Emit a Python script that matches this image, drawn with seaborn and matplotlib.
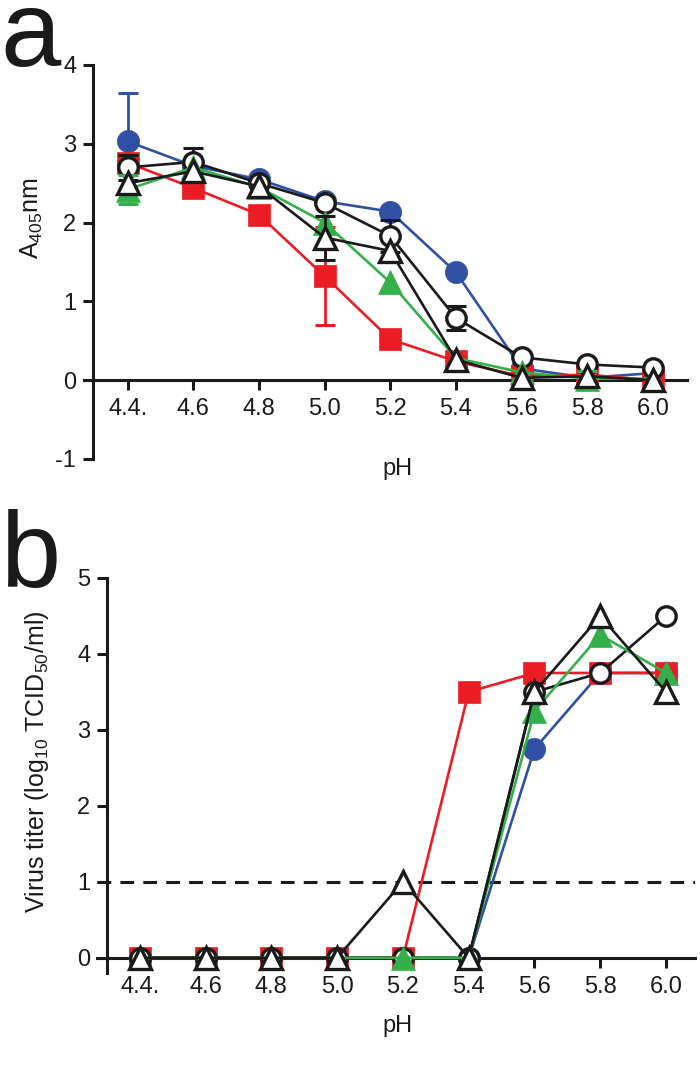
import numpy as np
import pandas as pd
import matplotlib
matplotlib.use("Agg")
import matplotlib.pyplot as plt
import seaborn as sns

# ---------------- data ----------------
ph = [4.4, 4.6, 4.8, 5.0, 5.2, 5.4, 5.6, 5.8, 6.0]
ph_labels = ["4.4.", "4.6", "4.8", "5.0", "5.2", "5.4", "5.6", "5.8", "6.0"]

# panel a: A405nm
a_blue = [3.03, 2.72, 2.55, 2.27, 2.14, 1.37, 0.15, 0.03, 0.09]
a_red = [2.76, 2.44, 2.10, 1.32, 0.52, 0.24, 0.05, 0.07, 0.00]
a_green = [2.42, 2.70, 2.45, 2.00, 1.24, 0.28, 0.10, 0.02, 0.02]
a_circ = [2.70, 2.77, 2.50, 2.25, 1.83, 0.79, 0.29, 0.20, 0.16]
a_tri = [2.50, 2.65, 2.46, 1.81, 1.64, 0.26, 0.03, 0.05, 0.00]

a_blue_err = [0.62, 0, 0, 0, 0, 0, 0, 0, 0]
a_red_err = [0, 0, 0, 0.62, 0, 0, 0, 0, 0]
a_green_err = [0.19, 0, 0, 0, 0, 0, 0, 0.10, 0]
a_circ_err = [0.16, 0.18, 0, 0, 0.20, 0.15, 0, 0, 0]
a_tri_err = [0, 0, 0, 0.28, 0, 0, 0, 0, 0]

# panel b: virus titer
b_red = [0, 0, 0, 0, 0, 3.5, 3.75, 3.75, 3.75]
b_blue = [0, 0, 0, 0, 0, 0, 2.75, 3.75, 3.75]
b_green = [0, 0, 0, 0, 0, 0, 3.25, 4.25, 3.75]
b_circ = [0, 0, 0, 0, 0, 0, 3.5, 3.75, 4.5]
b_tri = [0, 0, 0, 0, 1, 0, 3.5, 4.5, 3.5]
detection_limit = 1

BLUE = "#3050A3"
RED = "#EC1C24"
GREEN = "#33B04A"
BLACK = "#1A1A1A"

sns.set_theme(style="ticks")
plt.rcParams["font.family"] = ["Liberation Sans", "DejaVu Sans"]
plt.rcParams["mathtext.default"] = "regular"

fig = plt.figure(figsize=(7.0, 10.67), dpi=100)
W, H = 700.0, 1067.0

def axes_px(left, right, top, bottom):
    return fig.add_axes([left / W, 1 - bottom / H, (right - left) / W, (bottom - top) / H])

axA = axes_px(84, 687, 65, 459)
axB = axes_px(97, 695, 578, 973)

def series_specs(blue, red, green, circ, tri, errs=None):
    if errs is None:
        errs = [None] * 5
    return [
        (blue, errs[0], BLUE, "o", BLUE, 16.0),
        (red, errs[1], RED, "s", RED, 16.0),
        (circ, errs[3], BLACK, "o", "white", 14.0),
        (green, errs[2], GREEN, "^", GREEN, 17.0),
        (tri, errs[4], BLACK, "^", "white", 15.5),
    ]

def draw(ax, specs):
    for i, (vals, err, col, mk, face, ms) in enumerate(specs):
        if err is not None:
            e = np.array(err)
            m = e > 0
            ax.errorbar(np.array(ph)[m], np.array(vals)[m], yerr=e[m], fmt="none",
                        ecolor=col, elinewidth=2.0, capsize=7, capthick=2.2,
                        zorder=2 + i * 2)
        df = pd.DataFrame({"pH": ph, "v": vals})
        filled = face != "white"
        sns.lineplot(data=df, x="pH", y="v", ax=ax, color=col, lw=1.9,
                     marker=mk, markersize=ms, markerfacecolor=face,
                     markeredgecolor=col, markeredgewidth=0.5 if filled else 2.4,
                     zorder=3 + i * 2, clip_on=False)

draw(axA, series_specs(a_blue, a_red, a_green, a_circ, a_tri,
                       [a_blue_err, a_red_err, a_green_err, a_circ_err, a_tri_err]))
draw(axB, series_specs(b_blue, b_red, b_green, b_circ, b_tri))
axB.axhline(detection_limit, color=BLACK, lw=2.2, ls=(0, (4.5, 3.0)), zorder=1)

def style(ax, xlim, ylim, spine_x, yticks, ylabel, ylab_xy, xlab_xy):
    ax.set_xlim(*xlim)
    ax.set_ylim(*ylim)
    for s in ["top", "right"]:
        ax.spines[s].set_visible(False)
    ax.spines["left"].set_position(("data", spine_x))
    ax.spines["bottom"].set_position(("data", 0))
    for s in ["left", "bottom"]:
        ax.spines[s].set_linewidth(2.2)
        ax.spines[s].set_color(BLACK)
    ax.set_xticks(ph)
    ax.set_xticklabels(ph_labels)
    ax.set_yticks(yticks)
    ax.set_yticklabels([str(t) for t in yticks])
    ax.tick_params(axis="both", direction="out", length=7, width=2.2,
                   color=BLACK, labelsize=17, labelcolor=BLACK)
    ax.tick_params(axis="x", pad=6)
    ax.tick_params(axis="y", pad=5)
    ax.set_ylabel(ylabel, fontsize=18, color=BLACK)
    ax.set_xlabel("pH", fontsize=17, color=BLACK)
    ax.yaxis.set_label_coords(*ylab_xy)
    ax.xaxis.set_label_coords(*xlab_xy)
    ax.patch.set_alpha(0)

style(axA, (4.267, 6.104), (-1, 4), 4.294, [-1, 0, 1, 2, 3, 4],
      r"A$_{405}$nm", ((45 - 84) / 603, (459 - 218) / 394), ((397 - 84) / 603, (459 - 458) / 394))
style(axB, (4.27, 6.088), (-0.2, 5), 4.30, [0, 1, 2, 3, 4, 5],
      r"Virus titer (log$_{10}$ TCID$_{50}$/ml)", ((51 - 97) / 598, (973 - 762) / 395),
      ((397 - 97) / 598, (973 - 1015) / 395))

fig.text(0 / W, 1 - 66 / H, "a", fontsize=78, color=BLACK, va="baseline", ha="left")
fig.text(0 / W, 1 - 587 / H, "b", fontsize=78, color=BLACK, va="baseline", ha="left")

fig.savefig("out.png", dpi=100)
